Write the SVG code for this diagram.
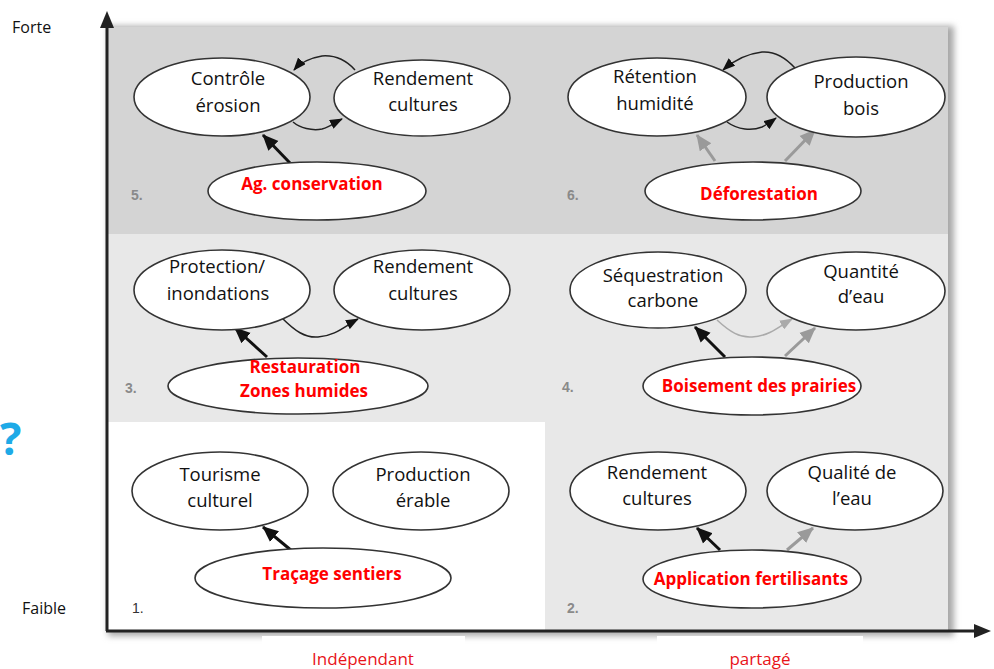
<svg xmlns="http://www.w3.org/2000/svg" width="994" height="669" viewBox="0 0 994 669">
<style>
.el{fill:#fff;stroke:#333;stroke-width:1.6}
.t{font-family:"Open Sans","Liberation Sans",sans-serif;font-size:18.5px;fill:#111;text-anchor:middle}
.r{font-family:"Open Sans","Liberation Sans",sans-serif;font-size:17px;font-weight:bold;fill:#f00;text-anchor:middle}
.n{font-family:"Liberation Sans",Arial,sans-serif;font-size:14px;font-weight:bold;fill:#8a8a8a}
.ax{font-family:"Open Sans","Liberation Sans",sans-serif;font-size:16px;fill:#111}
.axr{font-family:"Open Sans","Liberation Sans",sans-serif;font-size:17px;fill:#e8141a;text-anchor:middle}
.loop{fill:none;stroke:#222;stroke-width:1.5;marker-end:url(#hs)}
.thk{fill:none;stroke:#111;stroke-width:3;marker-end:url(#hb)}
.gth{fill:none;stroke:#9a9a9a;stroke-width:3;marker-end:url(#hg)}
.gl{fill:none;stroke:#aaa;stroke-width:1.5;marker-end:url(#hgs)}
</style>
<defs>
<marker id="hs" markerWidth="14" markerHeight="10" refX="12" refY="5" orient="auto" markerUnits="userSpaceOnUse"><path d="M0,0 L13,5 L0,10 Z" fill="#111"/></marker>
<marker id="hb" markerWidth="17" markerHeight="16" refX="15" refY="8" orient="auto" markerUnits="userSpaceOnUse"><path d="M0,1 L16,8 L0,15 Z" fill="#111"/></marker>
<marker id="hg" markerWidth="17" markerHeight="16" refX="15" refY="8" orient="auto" markerUnits="userSpaceOnUse"><path d="M0,1 L16,8 L0,15 Z" fill="#9a9a9a"/></marker>
<marker id="hgs" markerWidth="14" markerHeight="10" refX="12" refY="5" orient="auto" markerUnits="userSpaceOnUse"><path d="M0,0 L13,5 L0,10 Z" fill="#aaa"/></marker>
<filter id="sh" x="-5%" y="-5%" width="110%" height="110%"><feGaussianBlur stdDeviation="3"/></filter>
</defs>
<rect width="994" height="669" fill="#fff"/>
<g id="panels">
<rect x="108" y="26" width="846" height="610" fill="#a8a8a8" filter="url(#sh)"/>
<rect x="108" y="27" width="840" height="207" fill="#d4d4d4"/>
<rect x="108" y="234" width="840" height="397" fill="#e8e8e8"/>
<rect x="108" y="422" width="437" height="209" fill="#fff"/>
<rect x="262" y="636" width="203" height="14" fill="#fff"/>
<rect x="657" y="636" width="206" height="14" fill="#fff"/>
</g>
<g id="axes">
<line x1="107" y1="26" x2="107" y2="631" stroke="#222" stroke-width="3"/>
<path d="M100,28 L107,11 L114,28 Z" fill="#222"/>
<line x1="106" y1="631" x2="976" y2="631" stroke="#222" stroke-width="3"/>
<path d="M974,624 L991,631 L974,638 Z" fill="#222"/>
<text class="ax" x="12" y="33">Forte</text>
<text class="ax" x="22" y="614">Faible</text>
<text x="0" y="455" font-family="'Open Sans','Liberation Sans',sans-serif" font-size="45" font-weight="bold" fill="#1eaae7">?</text>
<text class="axr" x="363" y="665">Indépendant</text>
<text class="axr" x="760" y="665">partagé</text>
</g>
<g id="connectors">
<path class="loop" d="M355,70 C345,59 335,55 322,56 C310,58 300,63 294,70"/>
<path class="loop" d="M293,122 C300,128 312,131 322,129 C330,127 336,122 342,119"/>
<path class="thk" d="M290,163 L263,135"/>
<path class="loop" d="M795,68 C785,57 775,51 762,52 C745,54 732,62 723,70"/>
<path class="loop" d="M727,122 C738,130 752,131 762,127 C768,124 772,121 776,118"/>
<path class="gth" d="M715,161 L697,135"/>
<path class="gth" d="M785,161 L815,130"/>
<path class="loop" d="M282,318 C295,331 305,338 318,337 C335,336 345,326 358,319"/>
<path class="thk" d="M267,357 L235,328"/>
<path class="gl" d="M717,320 C730,332 740,338 752,337 C770,336 780,326 792,319"/>
<path class="thk" d="M725,357 L695,327"/>
<path class="gth" d="M785,356 L815,328"/>
<path class="thk" d="M292,551 L263,527"/>
<path class="thk" d="M720,550 L697,528"/>
<path class="gth" d="M787,550 L813,528"/>
</g>
<g id="n5-controle"><ellipse class="el" cx="222" cy="97" rx="88" ry="39"/><text class="t" x="228" y="85">Contrôle</text><text class="t" x="228" y="112">érosion</text></g>
<g id="n5-rendement"><ellipse class="el" cx="422" cy="98" rx="88" ry="38"/><text class="t" x="423" y="85">Rendement</text><text class="t" x="423" y="111">cultures</text></g>
<g id="n5-ag"><ellipse class="el" cx="317" cy="191" rx="109" ry="29"/><text class="r" x="312" y="190">Ag. conservation</text></g>
<text class="n" x="131" y="200">5.</text>
<g id="n6-retention"><ellipse class="el" cx="657" cy="97" rx="89" ry="39"/><text class="t" x="655" y="83">Rétention</text><text class="t" x="655" y="110">humidité</text></g>
<g id="n6-production"><ellipse class="el" cx="856" cy="97" rx="89" ry="40"/><text class="t" x="861" y="88">Production</text><text class="t" x="861" y="115">bois</text></g>
<g id="n6-deforestation"><ellipse class="el" cx="753" cy="191" rx="108" ry="29"/><text class="r" x="759" y="200">Déforestation</text></g>
<text class="n" x="567" y="200">6.</text>
<g id="n3-protection"><ellipse class="el" cx="222" cy="290" rx="88" ry="40"/><text class="t" x="217" y="273">Protection/</text><text class="t" x="218" y="300">inondations</text></g>
<g id="n3-rendement"><ellipse class="el" cx="422" cy="290" rx="88" ry="40"/><text class="t" x="423" y="273">Rendement</text><text class="t" x="423" y="300">cultures</text></g>
<g id="n3-restauration"><ellipse class="el" cx="298" cy="386" rx="130" ry="28"/><text class="r" x="305" y="373">Restauration</text><text class="r" x="304" y="397">Zones humides</text></g>
<text class="n" x="125" y="393">3.</text>
<g id="n4-sequestration"><ellipse class="el" cx="658" cy="290" rx="88" ry="38"/><text class="t" x="663" y="282">Séquestration</text><text class="t" x="663" y="307">carbone</text></g>
<g id="n4-quantite"><ellipse class="el" cx="856" cy="291" rx="89" ry="39"/><text class="t" x="861" y="278">Quantité</text><text class="t" x="861" y="303">d’eau</text></g>
<g id="n4-boisement"><ellipse class="el" cx="752" cy="386" rx="109" ry="29"/><text class="r" x="759" y="392">Boisement des prairies</text></g>
<text class="n" x="562" y="392">4.</text>
<g id="n1-tourisme"><ellipse class="el" cx="220" cy="491" rx="88" ry="39"/><text class="t" x="220" y="481">Tourisme</text><text class="t" x="220" y="507">culturel</text></g>
<g id="n1-erable"><ellipse class="el" cx="421" cy="491" rx="88" ry="39"/><text class="t" x="423" y="481">Production</text><text class="t" x="423" y="507">érable</text></g>
<g id="n1-tracage"><ellipse class="el" cx="323" cy="578" rx="128" ry="30"/><text class="r" x="332" y="580">Traçage sentiers</text></g>
<text x="132" y="613" font-family="'Liberation Sans',Arial,sans-serif" font-size="14" fill="#333">1.</text>
<g id="n2-rendement"><ellipse class="el" cx="658" cy="491" rx="88" ry="39"/><text class="t" x="657" y="479">Rendement</text><text class="t" x="657" y="505">cultures</text></g>
<g id="n2-qualite"><ellipse class="el" cx="855" cy="491" rx="88" ry="39"/><text class="t" x="852" y="479">Qualité de</text><text class="t" x="852" y="505">l’eau</text></g>
<g id="n2-application"><ellipse class="el" cx="752" cy="579" rx="109" ry="29"/><text class="r" x="751" y="585">Application fertilisants</text></g>
<text class="n" x="567" y="613">2.</text>
</svg>
